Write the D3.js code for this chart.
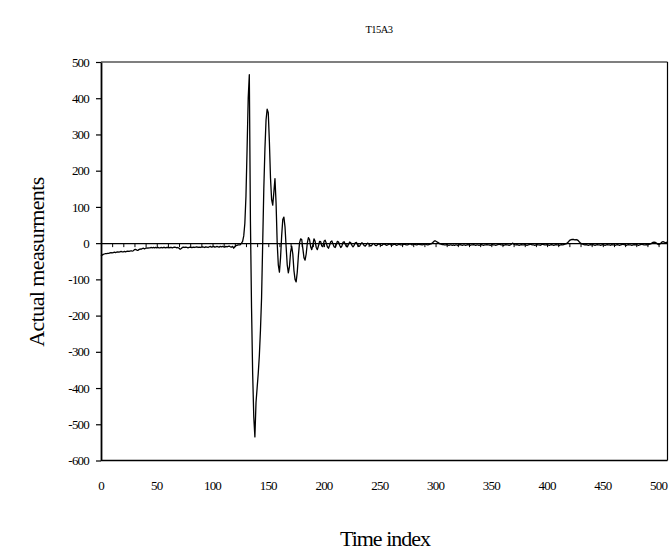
<!DOCTYPE html>
<html>
<head>
<meta charset="utf-8">
<script src="https://cdn.jsdelivr.net/npm/d3@7"></script>
<style>
  body { margin: 0; background: #fff; }
  text { font-family: "Liberation Serif", "Times New Roman", serif; fill: #000; }
</style>
</head>
<body>
<script>
// chart values
const chartTitle = 'T15A3';
const xTitle = 'Time index';
const yTitle = 'Actual measurments';
const xTickLabels = [0, 50, 100, 150, 200, 250, 300, 350, 400, 450, 500];
const yTickLabels = [500, 400, 300, 200, 100, 0, -100, -200, -300, -400, -500, -600];

// one value per time index, 0..508
const measurements = [
    -36, -33, -31, -30, -29, -29, -28, -28, -27, -26,
    -27, -26, -25, -26, -25, -24, -25, -24, -23, -24,
    -24, -23, -24, -23, -22, -23, -22, -21, -22, -21,
    -18, -17, -19, -20, -18, -16, -17, -15, -14, -16,
    -14, -13, -14, -13, -13, -12, -13, -12, -13, -12,
    -13, -12, -13, -13, -12, -13, -12, -12, -13, -12,
    -12, -13, -12, -12, -13, -12, -11, -12, -13, -12,
    -14, -17, -15, -12, -11, -12, -11, -12, -13, -12,
    -11, -12, -12, -11, -12, -11, -10, -12, -11, -12,
    -11, -10, -11, -12, -10, -11, -12, -10, -9, -11,
    -10, -9, -11, -10, -9, -10, -11, -9, -10, -9,
    -10, -11, -9, -10, -9, -8, -10, -11, -9, -14,
    -10, -7, -6, -5, -5, -4, 0, 5, 20, 55,
    130, 260, 400, 465, 60, -180, -360, -480, -535, -440,
    -400, -360, -310, -240, -150, 0, 150, 260, 340, 370,
    360, 280, 180, 120, 105, 140, 178, 110, 0, -60,
    -80, -40, 20, 65, 72, 45, -10, -60, -82, -65,
    -25, -8, -30, -75, -100, -107, -80, -35, 0, 12,
    10, -15, -40, -47, -30, 0, 15, 10, -10, -18,
    -5, 12, 5, -12, -18, -8, 5, 4, -8, -10,
    5, 8, 0, -10, -14, -6, 4, 6, -2, -10,
    -12, -4, 5, 3, -6, -12, -8, 2, 4, -3,
    -9, -10, -3, 3, 1, -6, -10, -6, 1, 2,
    -4, -9, -8, -2, 1, -2, -7, -8, -4, 0,
    -1, -6, -8, -5, -1, -2, -6, -7, -4, -2,
    -3, -6, -6, -3, -2, -4, -6, -5, -3, -3,
    -5, -6, -4, -3, -4, -6, -5, -3, -4, -5,
    -5, -4, -3, -4, -5, -5, -3, -2, -3, -5,
    -4, -3, -4, -5, -4, -3, -4, -4, -5, -4,
    -3, -3, -4, -5, -4, -3, -2, 0, 3, 6,
    6, 4, 2, 0, -2, -3, -4, -4, -5, -5,
    -4, -5, -6, -5, -5, -6, -5, -6, -5, -5,
    -6, -5, -4, -5, -6, -5, -5, -6, -5, -4,
    -5, -6, -5, -5, -4, -5, -6, -5, -5, -6,
    -5, -4, -5, -6, -5, -5, -4, -5, -5, -6,
    -5, -4, -5, -5, -6, -5, -4, -3, -4, -5,
    -5, -6, -5, -4, -5, -5, -6, -5, -3, 0,
    -2, -4, -5, -4, -5, -6, -5, -4, -5, -5,
    -4, -5, -6, -5, -4, -3, -4, -5, -5, -6,
    -5, -4, -5, -5, -6, -4, -3, -4, -5, -5,
    -4, -5, -6, -5, -4, -5, -6, -5, -4, -5,
    -5, -6, -5, -4, -5, -4, -3, -2, 0, 3,
    7, 9, 10, 10, 10, 9, 10, 9, 7, 3,
    0, -2, -3, -4, -5, -4, -5, -6, -5, -4,
    -5, -4, -5, -6, -5, -4, -5, -5, -6, -5,
    -4, -5, -6, -5, -4, -5, -5, -6, -4, -5,
    -5, -6, -5, -4, -5, -6, -5, -4, -3, -4,
    -5, -6, -5, -4, -5, -5, -6, -5, -4, -5,
    -4, -5, -6, -5, -4, -3, -4, -5, -5, -4,
    -5, -4, -3, -2, 0, 2, 3, 2, 0, -2,
    -4, -3, 0, 3, 4, 3, 1, 2, 3
];

const width = 671;
const height = 550;
const margin = { top: 62, right: 3.5, bottom: 89.5, left: 101 };

const svg = d3.select('body').append('svg')
    .attr('width', width)
    .attr('height', height);

const x = d3.scaleLinear()
    .domain([0, measurements.length - 1])
    .range([margin.left, width - margin.right]);
const y = d3.scaleLinear()
    .domain([-600, 500])
    .range([height - margin.bottom, margin.top]);

// plot frame: grey top, black sides and bottom
svg.append('line')
    .attr('x1', x.range()[0]).attr('x2', x.range()[1])
    .attr('y1', y(500)).attr('y2', y(500))
    .attr('stroke', '#555').attr('stroke-width', 1.5);
svg.append('line')
    .attr('x1', x.range()[1]).attr('x2', x.range()[1])
    .attr('y1', y(500)).attr('y2', y(-600))
    .attr('stroke', '#000').attr('stroke-width', 1.2);
svg.append('line')
    .attr('x1', x.range()[0]).attr('x2', x.range()[1])
    .attr('y1', y(-600)).attr('y2', y(-600))
    .attr('stroke', '#000').attr('stroke-width', 1.5);

// y axis with outward ticks; plain hyphen for negatives like the original
const yAxis = svg.append('g')
    .attr('transform', `translate(${margin.left},0)`)
    .call(d3.axisLeft(y).tickValues(yTickLabels).tickSize(5).tickPadding(7)
        .tickSizeOuter(0).tickFormat((d) => String(d)));
yAxis.select('.domain').attr('stroke', '#000').attr('stroke-width', 1.8);
yAxis.selectAll('.tick line').attr('stroke', '#000').attr('stroke-width', 1.2);
yAxis.selectAll('text')
    .style('font-family', '"Liberation Serif", serif')
    .style('font-size', '13px')
    .attr('letter-spacing', '-0.8px');

// x axis sits on the zero line, ticks every 10 pointing down
const xAxis = svg.append('g')
    .attr('transform', `translate(0,${y(0)})`)
    .call(d3.axisBottom(x).tickValues(d3.range(10, measurements.length, 10))
        .tickSize(4).tickFormat('').tickSizeOuter(0));
xAxis.select('.domain').attr('stroke', '#000').attr('stroke-width', 1.2);
xAxis.selectAll('.tick line').attr('stroke', '#000').attr('stroke-width', 1);

// x tick labels under the plot
svg.append('g').selectAll('text')
    .data(xTickLabels)
    .join('text')
    .attr('x', (d) => x(d))
    .attr('y', y(-600) + 29)
    .attr('text-anchor', 'middle')
    .attr('letter-spacing', '-0.8px')
    .style('font-size', '13px')
    .text((d) => String(d));

// the series
svg.append('path')
    .datum(measurements)
    .attr('fill', 'none')
    .attr('stroke', '#000')
    .attr('stroke-width', 1.3)
    .attr('stroke-linejoin', 'round')
    .attr('d', d3.line().x((d, i) => x(i)).y((d) => y(d)));

// titles
svg.append('text')
    .attr('x', 379).attr('y', 33)
    .attr('text-anchor', 'middle')
    .attr('letter-spacing', '-0.5px')
    .style('font-size', '10.5px')
    .text(chartTitle);

svg.append('text')
    .attr('x', 385).attr('y', 546)
    .attr('text-anchor', 'middle')
    .attr('letter-spacing', '-1px')
    .style('font-size', '22px')
    .text(xTitle);

svg.append('text')
    .attr('transform', 'translate(44,262) rotate(-90)')
    .attr('text-anchor', 'middle')
    .attr('letter-spacing', '-0.6px')
    .style('font-size', '22px')
    .text(yTitle);
</script>
</body>
</html>
